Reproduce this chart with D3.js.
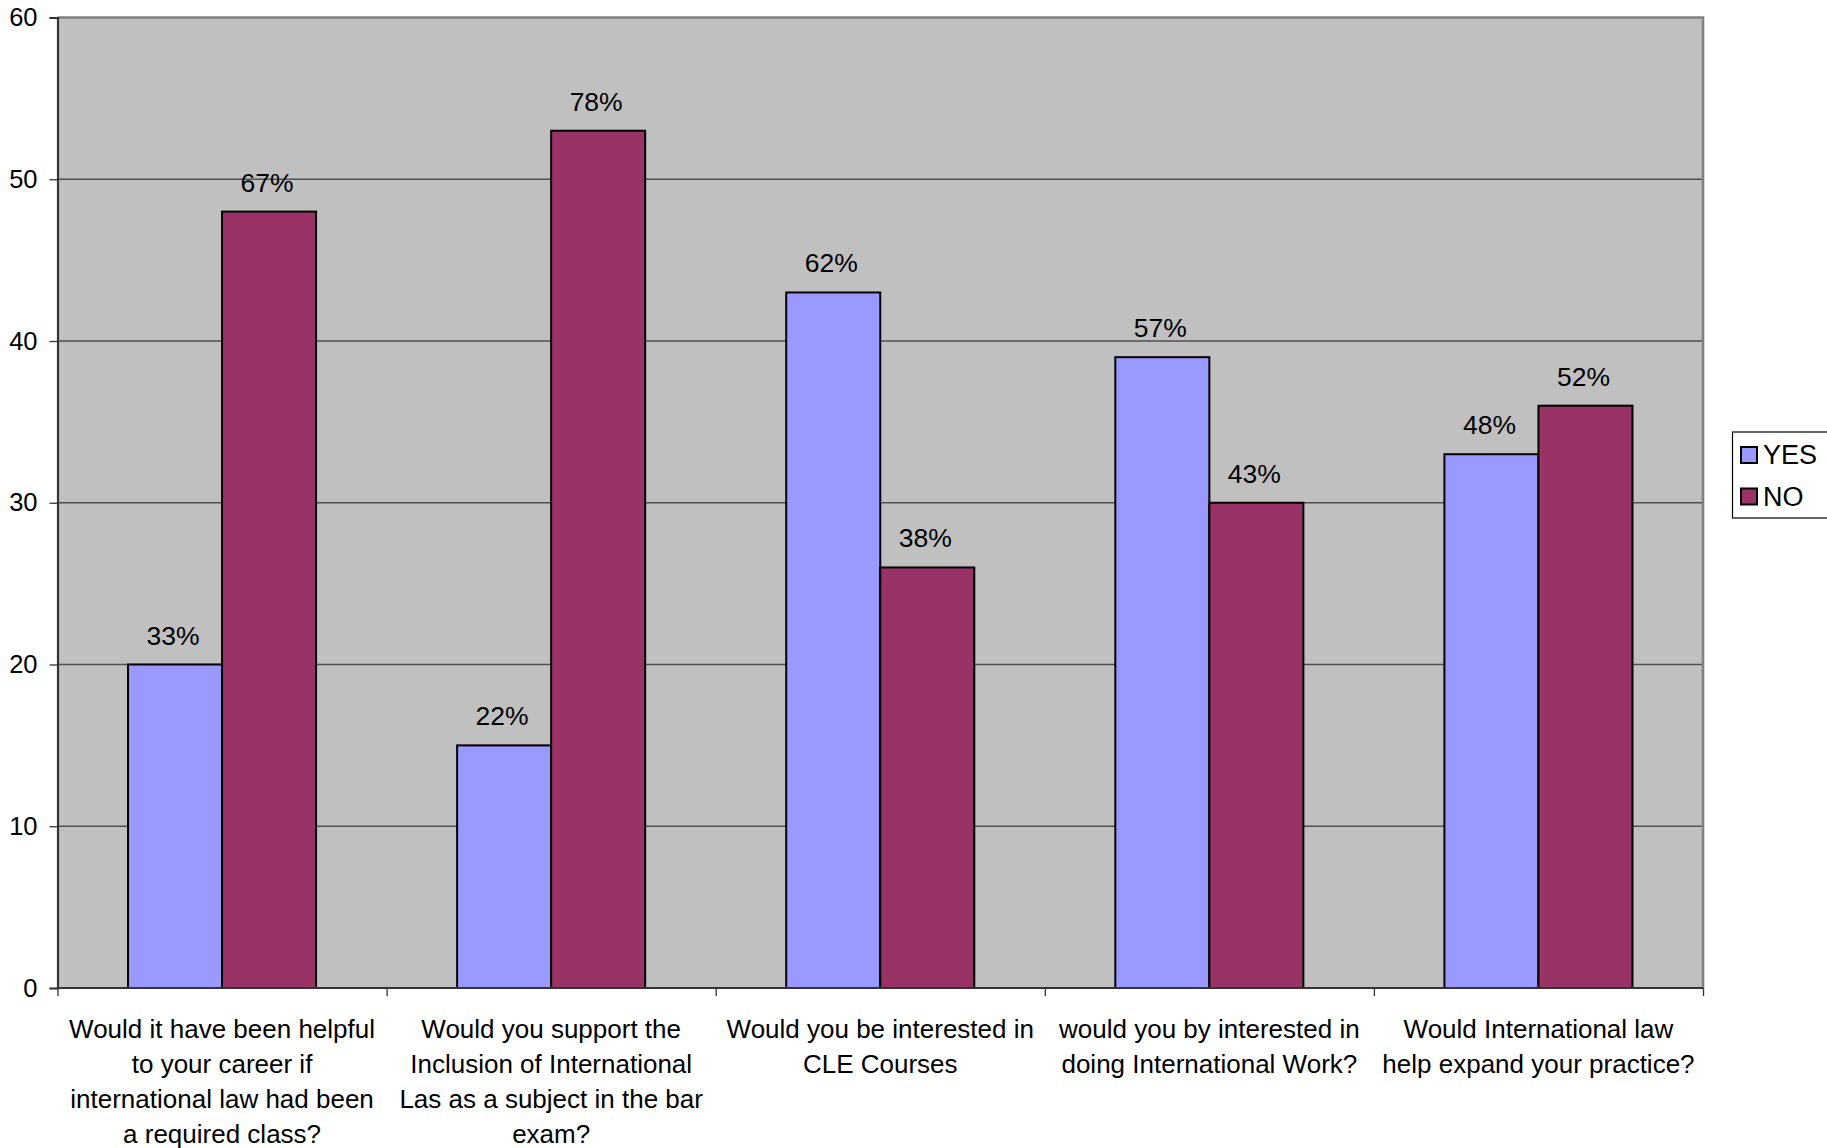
<!DOCTYPE html>
<html>
<head>
<meta charset="utf-8">
<script src="https://cdn.jsdelivr.net/npm/d3@7"></script>
<style>
  html, body { margin: 0; padding: 0; background: #fff; }
  svg text { font-family: "Liberation Sans", Arial, sans-serif; fill: #000; }
</style>
</head>
<body>
<svg id="chart" width="1827" height="1148"></svg>
<script>
// ---- data ----
const categoryLines = [
  ["Would it have been helpful", "to your career if", "international law had been", "a required class?"],
  ["Would you support the", "Inclusion of International", "Las as a subject in the bar", "exam?"],
  ["Would you be interested in", "CLE Courses"],
  ["would you by interested in", "doing International Work?"],
  ["Would International law", "help expand your practice?"]
];
const seriesNames = ["YES", "NO"];
const yesValues = [20, 15, 43, 39, 33];
const noValues = [48, 53, 26, 30, 36];
const yesLabels = ["33%", "22%", "62%", "57%", "48%"];
const noLabels = ["67%", "78%", "38%", "43%", "52%"];
const yTicks = [0, 10, 20, 30, 40, 50, 60];
const seriesColors = ["#9999FF", "#993366"];

(function () {
// ---- layout ----
const svg = d3.select("#chart");
const pL = 57.5, pR = 1703, pT = 17.5, pB = 988;
const cats = categoryLines.map((d, i) => i);

const x0 = d3.scaleBand().domain(cats).range([pL, pR]).padding(0);
const x1 = d3.scaleBand().domain(seriesNames).range([0, x0.bandwidth()])
  .paddingInner(0).paddingOuter(0.75);
const y = d3.scaleLinear().domain([0, 60]).range([pB, pT]);
const color = d3.scaleOrdinal().domain(seriesNames).range(seriesColors);

// plot background
svg.append("rect")
  .attr("x", pL).attr("y", pT)
  .attr("width", pR - pL).attr("height", pB - pT)
  .attr("fill", "#C0C0C0");

// gridlines
svg.append("g").selectAll("line")
  .data(yTicks.filter(t => t > 0 && t < 60))
  .join("line")
  .attr("x1", pL).attr("x2", pR)
  .attr("y1", d => y(d)).attr("y2", d => y(d))
  .attr("stroke", "#505050").attr("stroke-width", 1.3);

// top & right border
svg.append("path")
  .attr("d", `M${pL},${pT}H${pR}V${pB}`)
  .attr("fill", "none").attr("stroke", "#808080").attr("stroke-width", 2.6);

// bars
const rows = cats.map(i => ({
  i,
  vals: [
    { s: "YES", v: yesValues[i], lab: yesLabels[i] },
    { s: "NO", v: noValues[i], lab: noLabels[i] }
  ]
}));

const groups = svg.append("g").selectAll("g")
  .data(rows).join("g")
  .attr("transform", d => `translate(${x0(d.i)},0)`);

groups.selectAll("rect")
  .data(d => d.vals).join("rect")
  .attr("x", d => x1(d.s))
  .attr("y", d => y(d.v))
  .attr("width", x1.bandwidth())
  .attr("height", d => y(0) - y(d.v))
  .attr("fill", d => color(d.s))
  .attr("stroke", "#000").attr("stroke-width", 2);

groups.selectAll("text")
  .data(d => d.vals).join("text")
  .attr("x", d => x1(d.s) + x1.bandwidth() / 2 - 2)
  .attr("y", d => y(d.v) - 20)
  .attr("text-anchor", "middle")
  .attr("font-size", 26.5)
  .text(d => d.lab);

// y axis
const yAxis = d3.axisLeft(y).tickValues(yTicks).tickSize(8).tickPadding(12)
  .tickFormat(d3.format("d"));
const ya = svg.append("g").attr("transform", `translate(${pL},0)`).call(yAxis);
ya.select(".domain").attr("stroke", "#333").attr("stroke-width", 2.2);
ya.selectAll(".tick line").attr("stroke", "#333").attr("stroke-width", 1.3);
ya.selectAll(".tick text").attr("font-size", 25.5)
  .attr("font-family", '"Liberation Sans", Arial, sans-serif').attr("fill", "#000");

// x axis
const xAxisScale = d3.scaleLinear().domain([0, 5]).range([pL, pR]);
const xa = svg.append("g").attr("transform", `translate(0,${pB})`)
  .call(d3.axisBottom(xAxisScale).tickValues([0, 1, 2, 3, 4, 5]).tickSize(8).tickFormat(""));
xa.select(".domain").attr("stroke", "#333").attr("stroke-width", 2.2).attr("d", `M${pL},0H${pR}`);
xa.selectAll(".tick line").attr("stroke", "#333").attr("stroke-width", 1.3);

// category labels
const catLabels = svg.append("g").selectAll("text")
  .data(cats).join("text")
  .attr("text-anchor", "middle")
  .attr("font-size", 26)
  .attr("transform", d => `translate(${x0(d) + x0.bandwidth() / 2},1038)`);
catLabels.selectAll("tspan")
  .data(d => categoryLines[d]).join("tspan")
  .attr("x", 0).attr("dy", (d, i) => i === 0 ? 0 : 35)
  .text(d => d);

// legend
const lg = svg.append("g");
lg.append("rect")
  .attr("x", 1732.5).attr("y", 432).attr("width", 100).attr("height", 86)
  .attr("fill", "#fff").attr("stroke", "#000").attr("stroke-width", 1.2);
const li = lg.selectAll("g").data(seriesNames).join("g")
  .attr("transform", (d, i) => `translate(1741,${447 + i * 41.5})`);
li.append("rect").attr("width", 16).attr("height", 16)
  .attr("fill", d => color(d)).attr("stroke", "#000").attr("stroke-width", 2);
li.append("text").attr("x", 22).attr("y", 17).attr("font-size", 27).text(d => d);
})();
</script>
</body>
</html>
